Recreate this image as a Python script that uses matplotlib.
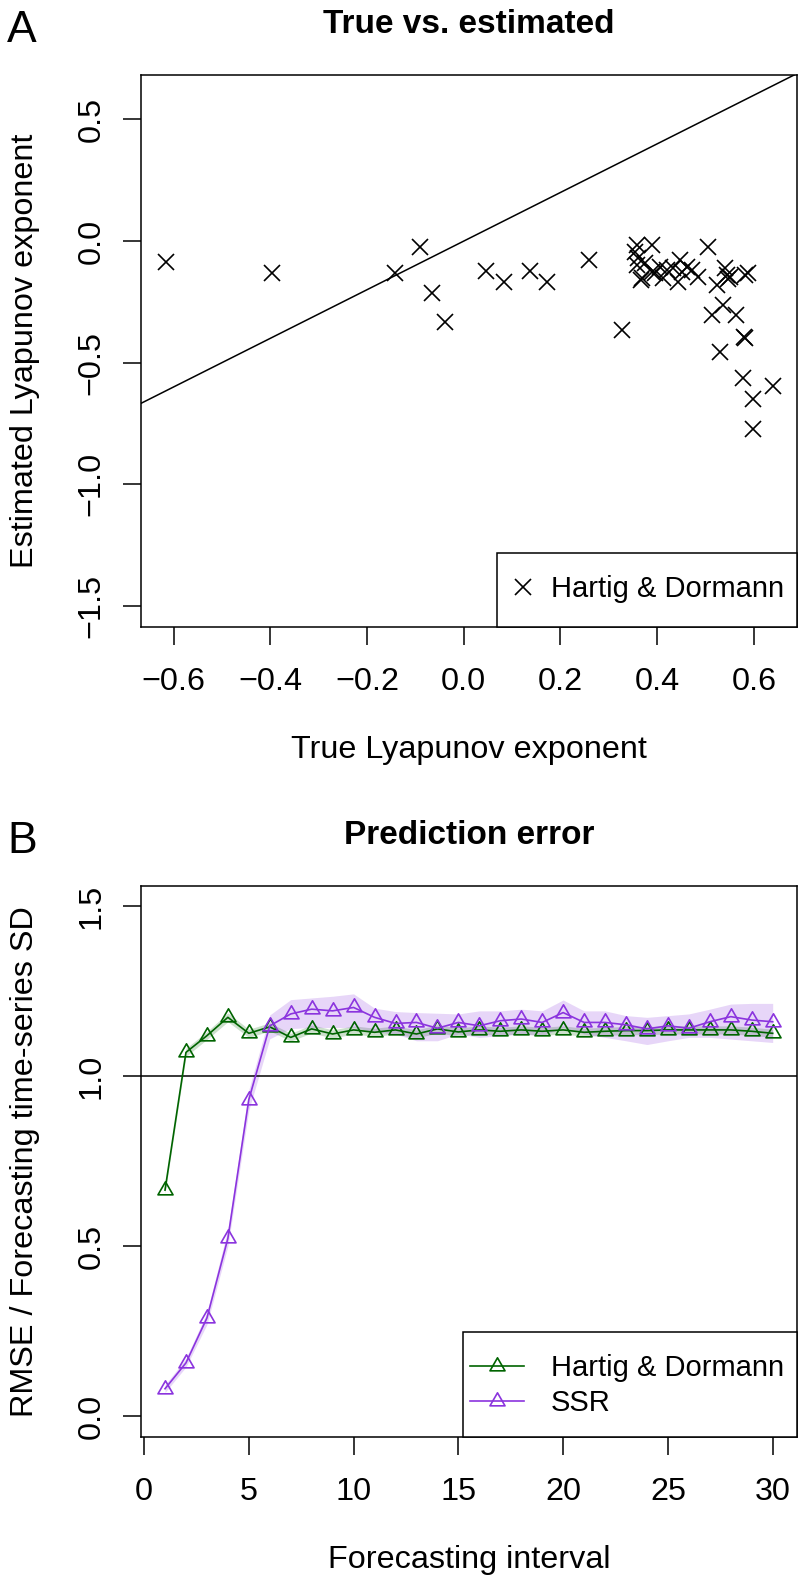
import matplotlib
matplotlib.use("Agg")
import matplotlib.pyplot as plt
from matplotlib.patches import Rectangle
from matplotlib.lines import Line2D
from matplotlib.path import Path
from matplotlib.ticker import FixedLocator, FuncFormatter

plt.rcParams['font.family'] = ['Liberation Sans', 'DejaVu Sans']

# ---------------- Panel A data ----------------
true_lyap = [-0.616, -0.397, -0.142, -0.090, -0.065, -0.039, 0.045, 0.084, 0.137, 0.172,
             0.258, 0.327, 0.358, 0.389, 0.506, 0.354, 0.361, 0.358, 0.375, 0.368,
             0.366, 0.389, 0.406, 0.420, 0.433, 0.447, 0.451, 0.471, 0.485, 0.443,
             0.523, 0.540, 0.544, 0.550, 0.547, 0.581, 0.588, 0.412, 0.395, 0.461,
             0.537, 0.513, 0.563, 0.581, 0.579, 0.530, 0.578, 0.599, 0.640, 0.597]
est_lyap = [-0.088, -0.130, -0.133, -0.026, -0.212, -0.332, -0.123, -0.167, -0.123, -0.167,
            -0.078, -0.366, -0.016, -0.016, -0.023, -0.044, -0.071, -0.099, -0.092, -0.153,
            -0.160, -0.126, -0.106, -0.119, -0.112, -0.078, -0.126, -0.119, -0.147, -0.167,
            -0.181, -0.112, -0.140, -0.147, -0.155, -0.140, -0.133, -0.153, -0.133, -0.106,
            -0.263, -0.304, -0.304, -0.400, -0.396, -0.455, -0.565, -0.651, -0.596, -0.774]
xticks_A = [-0.6, -0.4, -0.2, 0.0, 0.2, 0.4, 0.6]
yticks_A = [-1.5, -1.0, -0.5, 0.0, 0.5]

# ---------------- Panel B data ----------------
interval = list(range(1, 31))
hd_rmse = [0.665, 1.070, 1.119, 1.173, 1.126, 1.145, 1.114, 1.139, 1.124, 1.136,
           1.129, 1.136, 1.124, 1.139, 1.130, 1.136, 1.132, 1.136, 1.132, 1.136,
           1.129, 1.132, 1.134, 1.134, 1.136, 1.136, 1.136, 1.136, 1.132, 1.126]
hd_lo = [0.655, 1.058, 1.108, 1.160, 1.114, 1.133, 1.103, 1.127, 1.112, 1.124,
         1.117, 1.124, 1.112, 1.127, 1.118, 1.124, 1.120, 1.124, 1.120, 1.124,
         1.117, 1.120, 1.122, 1.122, 1.124, 1.124, 1.124, 1.124, 1.120, 1.114]
hd_hi = [0.677, 1.082, 1.131, 1.186, 1.138, 1.157, 1.126, 1.151, 1.136, 1.148,
         1.141, 1.148, 1.136, 1.151, 1.142, 1.148, 1.144, 1.148, 1.144, 1.148,
         1.141, 1.144, 1.146, 1.146, 1.148, 1.148, 1.148, 1.148, 1.144, 1.138]
ssr_rmse = [0.081, 0.157, 0.289, 0.523, 0.931, 1.148, 1.183, 1.197, 1.192, 1.202,
            1.173, 1.155, 1.158, 1.141, 1.158, 1.148, 1.163, 1.168, 1.158, 1.187,
            1.158, 1.158, 1.151, 1.139, 1.148, 1.141, 1.160, 1.175, 1.165, 1.160]
ssr_lo = [0.070, 0.145, 0.270, 0.500, 0.900, 1.110, 1.140, 1.143, 1.143, 1.143,
          1.130, 1.124, 1.104, 1.104, 1.124, 1.114, 1.119, 1.124, 1.119, 1.143,
          1.124, 1.114, 1.104, 1.093, 1.104, 1.114, 1.114, 1.109, 1.104, 1.099]
ssr_hi = [0.092, 0.170, 0.305, 0.550, 0.960, 1.180, 1.225, 1.230, 1.235, 1.242,
          1.200, 1.190, 1.187, 1.185, 1.183, 1.192, 1.192, 1.197, 1.192, 1.224,
          1.192, 1.192, 1.178, 1.173, 1.178, 1.183, 1.197, 1.212, 1.214, 1.214]
xticks_B = [0, 5, 10, 15, 20, 25, 30]
yticks_B = [0.0, 0.5, 1.0, 1.5]

GREEN = '#006400'
PURPLE = '#8B34DE'

W, H = 801, 1581
FS = 23.3
LFS = 21

# R-style open triangle (pch = 2), centred on its centroid
TRI = Path([(0, 1.155), (-1, -0.577), (1, -0.577), (0, 1.155)],
           [Path.MOVETO, Path.LINETO, Path.LINETO, Path.CLOSEPOLY])
TRI_MS = 12.5


def fx(px):
    return px / W


def fy(py):
    return 1 - py / H


def fmt1(v, pos=None):
    s = f"{v:.1f}"
    if s == "-0.0":
        s = "0.0"
    return s.replace('-', '\u2212')


def style_axes(ax):
    for sp in ax.spines.values():
        sp.set_linewidth(1.1)
    ax.tick_params(axis='both', direction='out', length=12.7, width=1.1,
                   labelsize=FS, top=False, right=False)
    ax.tick_params(axis='x', pad=16.0)
    ax.tick_params(axis='y', pad=11.8, labelrotation=90)
    for lab in ax.get_yticklabels():
        lab.set_va('center')


fig = plt.figure(figsize=(W / 100, H / 100), dpi=100)

# ---------------- Panel A ----------------
axA = fig.add_axes([fx(140.7), fy(626.7), (797 - 140.7) / W, (626.7 - 75) / H])
axA.plot(true_lyap, est_lyap, linestyle='none', marker='x', ms=11, mew=1.2,
         color='black', zorder=3)
axA.axline((0, 0), slope=1, color='black', lw=1.1, zorder=2)
axA.set_xlim(-0.668, 0.689)
axA.set_ylim(-1.586, 0.683)
axA.xaxis.set_major_locator(FixedLocator(xticks_A))
axA.yaxis.set_major_locator(FixedLocator(yticks_A))
axA.xaxis.set_major_formatter(FuncFormatter(fmt1))
axA.yaxis.set_major_formatter(FuncFormatter(fmt1))
style_axes(axA)
axA.set_title("True vs. estimated", fontsize=24, fontweight='bold', pad=30.2)
axA.set_xlabel("True Lyapunov exponent", fontsize=FS, va='baseline')
axA.xaxis.set_label_coords(0.5, -0.238)
axA.set_ylabel("Estimated Lyapunov exponent", fontsize=FS, va='baseline')
axA.yaxis.set_label_coords(-0.164, 0.5)

rectA = Rectangle(((497 - 140.7) / 656.3, 0), 1 - (497 - 140.7) / 656.3,
                  (626.7 - 553) / 551.7, transform=axA.transAxes,
                  facecolor='white', edgecolor='black', lw=1.1, zorder=4.5, clip_on=False)
axA.add_patch(rectA)
hA = [Line2D([], [], linestyle='none', marker='x', ms=11, mew=1.2, color='black')]
axA.legend(hA, ["Hartig & Dormann"], loc='center left',
           bbox_to_anchor=((513.9 - 140.7) / 656.3, (626.7 - 589) / 551.7),
           frameon=False, borderpad=0, borderaxespad=0, handlelength=0.6,
           handletextpad=0.67, fontsize=LFS, numpoints=1)

fig.text(fx(7), fy(42), "A", fontsize=32, ha='left', va='baseline')

# ---------------- Panel B ----------------
axB = fig.add_axes([fx(140.7), fy(1436.7), (797 - 140.7) / W, (1436.7 - 885.7) / H])
axB.fill_between(interval, hd_lo, hd_hi, color=GREEN, alpha=0.2, lw=0, zorder=1)
axB.fill_between(interval, ssr_lo, ssr_hi, color=PURPLE, alpha=0.2, lw=0, zorder=1)
axB.axhline(1.0, color='black', lw=1.1, zorder=2)
axB.plot(interval, hd_rmse, color=GREEN, lw=1.2, marker=TRI, ms=TRI_MS, mfc='none',
         mew=1.2, zorder=3)
axB.plot(interval, ssr_rmse, color=PURPLE, lw=1.2, marker=TRI, ms=TRI_MS, mfc='none',
         mew=1.2, zorder=3)
axB.set_xlim(-0.16, 31.16)
axB.set_ylim(-0.06, 1.56)
axB.xaxis.set_major_locator(FixedLocator(xticks_B))
axB.yaxis.set_major_locator(FixedLocator(yticks_B))
axB.xaxis.set_major_formatter(FuncFormatter(lambda v, p: f"{int(round(v))}"))
axB.yaxis.set_major_formatter(FuncFormatter(fmt1))
style_axes(axB)
axB.set_title("Prediction error", fontsize=24, fontweight='bold', pad=30.2)
axB.set_xlabel("Forecasting interval", fontsize=FS, va='baseline')
axB.xaxis.set_label_coords(0.5, -0.2375)
axB.set_ylabel("RMSE / Forecasting time-series SD", fontsize=FS, va='baseline')
axB.yaxis.set_label_coords(-0.164, 0.5)

rectB = Rectangle(((463 - 140.7) / 656.3, 0), 1 - (463 - 140.7) / 656.3,
                  (1436.7 - 1332.3) / 551, transform=axB.transAxes,
                  facecolor='white', edgecolor='black', lw=1.1, zorder=4.5, clip_on=False)
axB.add_patch(rectB)
hB = [Line2D([], [], color=GREEN, lw=1.2, marker=TRI, ms=TRI_MS, mfc='none', mew=1.2),
      Line2D([], [], color=PURPLE, lw=1.2, marker=TRI, ms=TRI_MS, mfc='none', mew=1.2)]
axB.legend(hB, ["Hartig & Dormann", "SSR"], loc='center left',
           bbox_to_anchor=((470.3 - 140.7) / 656.3, (1436.7 - 1385.5) / 551),
           frameon=False, borderpad=0, borderaxespad=0, handlelength=1.83,
           handletextpad=0.936, labelspacing=0.24, fontsize=LFS, numpoints=1)

fig.text(fx(7), fy(852.7), "B", fontsize=32, ha='left', va='baseline')

fig.savefig("out.png", dpi=100)
